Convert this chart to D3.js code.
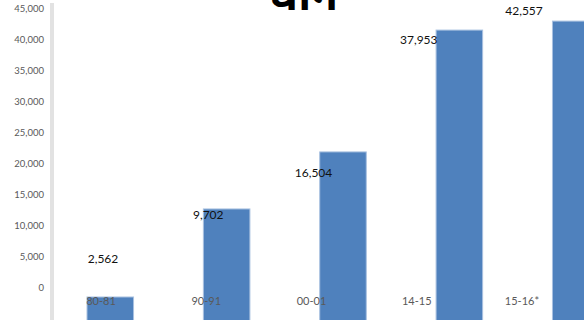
<!DOCTYPE html>
<html>
<head>
    <meta charset="utf-8">
    <title>Chart</title>
    <script src="https://d3js.org/d3.v7.min.js"></script>
    <style>
        body { margin: 0; background: #fff; }
        text { font-family: Lato, "Open Sans", sans-serif; }
    </style>
</head>
<body>
    <svg width="584" height="320" id="mainSvg"></svg>
    <script>
        const categories = ["80-81", "90-91", "00-01", "14-15", "15-16*"];
        const values = [2562, 9702, 16504, 37953, 42557];
        // bar tops as they sit against the axis in the picture
        const barTops = [-1450, 12750, 21950, 41600, 43050];
        const yTicks = [0, 5000, 10000, 15000, 20000, 25000, 30000, 35000, 40000, 45000];
        const title = "धान";

        const svg = d3.select("#mainSvg");

        const y = d3.scaleLinear().domain([0, 45000]).range([288, 9]);
        const xBar = d3.scaleBand().domain(categories).range([87, 599]).paddingInner(0.6).paddingOuter(0);
        const xLab = d3.scalePoint().domain(categories).range([101, 522]);

        // bars
        svg.append("g").selectAll("rect").data(categories).join("rect")
            .attr("x", d => xBar(d))
            .attr("width", xBar.bandwidth())
            .attr("y", (d, i) => y(barTops[i]))
            .attr("height", (d, i) => y(-5500) - y(barTops[i]))
            .attr("fill", "#4f81bd")
            .attr("stroke", "#a9c1e0")
            .attr("stroke-width", 1);

        // y axis
        const axis = svg.append("g")
            .attr("transform", "translate(52,0)")
            .call(d3.axisLeft(y).tickValues(yTicks).tickSize(4).tickFormat(d3.format(",")));
        axis.select(".domain").remove();
        axis.selectAll(".tick line").attr("stroke", "#c8c8c8").attr("stroke-width", 2).attr("x2", 2);
        axis.selectAll(".tick text")
            .attr("x", -8)
            .attr("dy", "0.3em")
            .attr("fill", "#595959")
            .style("font-size", "9.5px");
        svg.append("line")
            .attr("x1", 52).attr("x2", 52)
            .attr("y1", 3).attr("y2", 320)
            .attr("stroke", "#e2e2e2").attr("stroke-width", 4);

        // category labels
        svg.append("g").selectAll("text").data(categories).join("text")
            .attr("x", d => xLab(d))
            .attr("y", 305)
            .attr("text-anchor", "middle")
            .attr("fill", "#595959")
            .style("font-size", "11px")
            .text(d => d);

        // value labels
        svg.append("g").selectAll("text").data(values).join("text")
            .attr("x", (d, i) => xLab(categories[i]) + 2)
            .attr("y", d => y(d) - 13)
            .attr("dy", "0.35em")
            .attr("text-anchor", "middle")
            .attr("fill", "#111")
            .style("font-size", "12px")
            .text(d => d3.format(",")(d));

        // title, mostly cut off above the frame
        svg.append("text")
            .attr("x", 303)
            .attr("y", 10)
            .attr("text-anchor", "middle")
            .attr("font-weight", "bold")
            .style("font-family", "'Noto Sans Devanagari', 'Noto Sans', sans-serif")
            .style("font-size", "44px")
            .text(title);
    </script>
</body>
</html>
